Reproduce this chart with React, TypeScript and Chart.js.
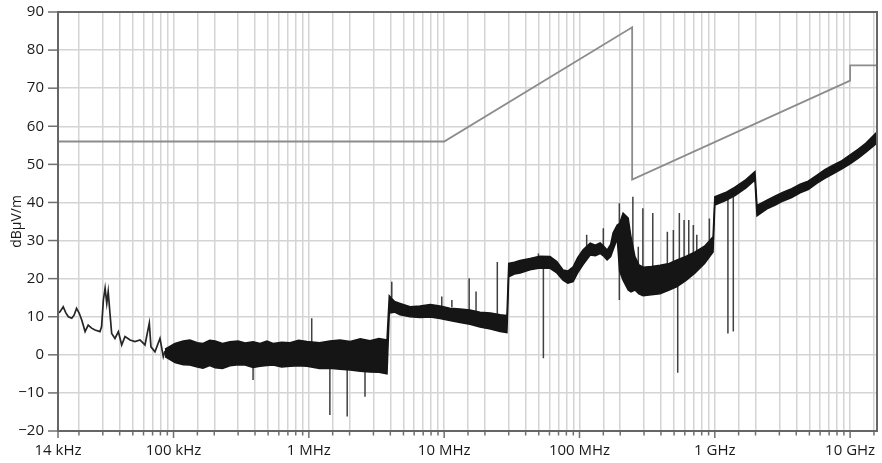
import { useEffect, useRef } from 'react';
import { Chart, registerables } from 'chart.js';

Chart.register(...registerables);

const X_MIN = 14e3;
const X_MAX = 15.8e9;
const Y_MIN = -20;
const Y_MAX = 90;

const tickFreqs = [14e3, 1e5, 1e6, 1e7, 1e8, 1e9, 1e10];
const tickLabels = ['14 kHz', '100 kHz', '1 MHz', '10 MHz', '100 MHz', '1 GHz', '10 GHz'];

// Limit line (dBμV/m)
const limitFreq = [14e3, 10e6, 245e6, 245e6, 10e9, 10e9, 15.8e9];
const limitDb = [56, 56, 86, 46, 72, 76, 76];

// Low-frequency part of the measured trace (thin line)
const lowFreq = [14.0e3, 14.5e3, 15.3e3, 16.0e3, 16.7e3, 17.7e3, 18.4e3, 19.2e3, 20.1e3, 21.0e3, 22.2e3, 23.4e3, 24.8e3, 26.3e3, 28.6e3, 29.4e3, 30.3e3, 31.2e3, 32.1e3, 32.9e3, 33.9e3, 34.9e3, 36.9e3, 39.1e3, 41.4e3, 43.8e3, 47.7e3, 51.9e3, 56.5e3, 61.5e3, 66.2e3, 68.1e3, 72.9e3, 79.4e3, 84.0e3, 86.5e3];
const lowDb = [10.9, 11.3, 12.6, 11.0, 10.0, 9.6, 10.4, 12.2, 10.9, 9.1, 6.1, 7.8, 7.0, 6.5, 6.1, 7.4, 14.4, 17.5, 13.5, 16.6, 10.9, 5.6, 4.3, 6.1, 2.6, 4.8, 3.9, 3.5, 3.9, 2.6, 8.3, 2.1, 0.8, 4.3, -0.5, 1.0];

// Dense noise band of the measured trace: upper and lower envelope
const bandFreq = [86.5e3, 102.5e3, 118e3, 132e3, 150e3, 165e3, 185e3, 203e3, 230e3, 261e3, 300e3, 338e3, 387e3, 436e3, 490e3, 544e3, 630e3, 726e3, 840e3, 969e3, 1.2e6, 1.43e6, 1.7e6, 2.02e6, 2.4e6, 2.83e6, 3.3e6, 3.78e6, 3.93e6, 4.3e6, 4.72e6, 5.6e6, 6.63e6, 7.9e6, 9.32e6, 11.0e6, 13.1e6, 15.5e6, 18.4e6, 22.0e6, 25.9e6, 29.1e6, 30.0e6, 33.0e6, 36.4e6, 43.1e6, 51.0e6, 60.6e6, 68.0e6, 75.6e6, 82.0e6, 89.7e6, 97.0e6, 106e6, 120e6, 131e6, 142e6, 150e6, 160e6, 170e6, 177e6, 190e6, 198e6, 210e6, 229e6, 240e6, 257e6, 275e6, 295e6, 340e6, 394e6, 460e6, 526e6, 610e6, 715e6, 840e6, 971e6, 1.0e9, 1.2e9, 1.41e9, 1.7e9, 1.98e9, 2.05e9, 2.43e9, 2.8e9, 3.20e9, 3.7e9, 4.27e9, 4.9e9, 5.70e9, 6.5e9, 7.48e9, 8.7e9, 10.0e9, 11.5e9, 13.1e9, 15.8e9];
const bandHi = [1.5, 3.0, 3.6, 3.9, 3.2, 3.0, 3.8, 3.6, 3.0, 3.4, 3.6, 3.1, 3.4, 3.0, 3.6, 3.0, 3.3, 3.2, 3.8, 3.5, 3.2, 3.6, 3.9, 3.5, 4.2, 3.7, 4.3, 3.9, 15.5, 14.0, 13.5, 12.6, 12.8, 13.2, 12.8, 12.2, 12.0, 11.8, 11.2, 11.0, 10.5, 10.3, 24.0, 24.3, 24.8, 25.3, 25.9, 25.8, 24.5, 22.3, 22.0, 23.1, 25.5, 27.5, 29.3, 28.8, 29.4, 28.6, 27.5, 29.0, 32.0, 34.1, 34.5, 37.2, 35.9, 31.0, 25.8, 23.6, 23.0, 23.2, 23.5, 24.0, 24.9, 25.8, 27.0, 28.5, 31.0, 41.5, 42.6, 44.0, 46.0, 48.1, 39.2, 40.6, 41.7, 42.7, 43.6, 44.8, 45.6, 47.2, 48.6, 49.8, 51.0, 52.5, 54.0, 55.6, 58.5];
const bandLo = [-0.5, -2.0, -2.6, -2.7, -3.2, -3.5, -2.8, -3.4, -3.6, -2.9, -2.6, -2.7, -3.3, -3.0, -2.8, -2.7, -3.2, -3.0, -2.9, -3.0, -3.6, -3.5, -3.8, -4.0, -4.3, -4.5, -4.6, -5.0, 11.0, 11.2, 10.5, 10.0, 9.8, 9.9, 9.5, 9.0, 8.5, 8.0, 7.3, 6.8, 6.1, 5.8, 20.5, 21.2, 21.5, 22.3, 22.8, 22.7, 21.5, 19.6, 18.8, 19.2, 21.5, 23.6, 26.2, 26.0, 26.6, 26.0, 24.9, 25.8, 27.5, 30.5, 22.0, 19.6, 17.0, 16.5, 17.0, 16.0, 15.5, 15.8, 16.0, 17.0, 17.9, 19.5, 21.5, 24.0, 27.0, 39.3, 40.5, 41.8, 43.8, 45.9, 36.5, 38.3, 39.3, 40.4, 41.3, 42.5, 43.4, 45.1, 46.3, 47.5, 48.8, 50.1, 51.6, 53.2, 55.6];

// Narrow spikes: frequency, start level, end level
const spikeFreq = [387e3, 1.05e6, 1.43e6, 1.92e6, 2.60e6, 4.10e6, 9.60e6, 11.4e6, 15.3e6, 17.2e6, 24.7e6, 49.7e6, 54.1e6, 113e6, 150e6, 197e6, 248e6, 272e6, 294e6, 348e6, 446e6, 494e6, 532e6, 547e6, 593e6, 642e6, 694e6, 736e6, 912e6, 1.25e9, 1.37e9];
const spikeFrom = [-2.5, 3.0, -3.0, -3.5, -4.0, 15.0, 12.8, 12.5, 11.8, 11.5, 10.6, 25.5, 22.7, 28.0, 28.5, 14.4, 20.0, 22.0, 22.0, 22.5, 23.5, 24.0, 20.0, 24.5, 25.0, 25.5, 26.0, 26.5, 28.5, 41.0, 41.5];
const spikeTo = [-6.6, 9.6, -15.8, -16.2, -11.0, 19.2, 15.3, 14.4, 20.1, 16.6, 24.4, 26.6, -0.9, 31.5, 33.2, 39.8, 41.5, 28.4, 38.5, 37.2, 32.3, 32.8, -4.7, 37.2, 35.4, 35.4, 34.1, 31.5, 35.8, 5.6, 6.1];

const FONT = "'Open Sans', 'DejaVu Sans', sans-serif";

const isDecade = (v: number) => Math.abs(Math.log10(v) - Math.round(Math.log10(v))) < 1e-6;

const framePlugin = {
  id: 'frameTicks',
  afterDraw(chart: any) {
    const { ctx, chartArea: a, scales } = chart;
    const xs = scales.x;
    const ys = scales.y;
    ctx.save();
    ctx.strokeStyle = '#707070';
    ctx.lineWidth = 1.5;
    xs.ticks.forEach((t: any) => {
      if (t.value >= X_MAX) return;
      const px = xs.getPixelForValue(t.value);
      const major = isDecade(t.value) || t.value === X_MIN;
      ctx.beginPath();
      ctx.moveTo(px, a.bottom);
      ctx.lineTo(px, a.bottom + (major ? 7 : 4.5));
      ctx.stroke();
    });
    ys.ticks.forEach((t: any) => {
      const py = ys.getPixelForValue(t.value);
      ctx.beginPath();
      if (t.value % 10 === 0) {
        ctx.lineWidth = 1.5;
        ctx.moveTo(a.left - 10, py);
        ctx.lineTo(a.left, py);
      } else {
        ctx.lineWidth = 2;
        ctx.moveTo(a.left - 5.5, py);
        ctx.lineTo(a.left - 3.5, py);
      }
      ctx.stroke();
    });
    ctx.strokeStyle = '#666666';
    ctx.lineWidth = 2;
    ctx.strokeRect(a.left, a.top, a.right - a.left, a.bottom - a.top);
    ctx.restore();
  },
};

export default function App() {
  const ref = useRef<HTMLCanvasElement | null>(null);

  useEffect(() => {
    if (!ref.current) return;
    const limitData = limitFreq.map((f, i) => ({ x: f, y: limitDb[i] }));
    const hiData = bandFreq.map((f, i) => ({ x: f, y: bandHi[i] }));
    const loData = bandFreq.map((f, i) => ({ x: f, y: bandLo[i] }));
    const lowData = lowFreq.map((f, i) => ({ x: f, y: lowDb[i] }));
    const spikeData: { x: number; y: number | null }[] = [];
    spikeFreq.forEach((f, i) => {
      spikeData.push({ x: f, y: spikeFrom[i] });
      spikeData.push({ x: f, y: spikeTo[i] });
      spikeData.push({ x: f, y: null });
    });

    const chart = new Chart(ref.current, {
      type: 'line',
      data: {
        datasets: [
          { data: limitData, borderColor: '#8c8c8c', borderWidth: 1.8, pointRadius: 0, fill: false, tension: 0 },
          { data: hiData, borderColor: '#151515', backgroundColor: '#151515', borderWidth: 1.5, pointRadius: 0, fill: '+1', tension: 0 },
          { data: loData, borderColor: '#151515', borderWidth: 1.5, pointRadius: 0, fill: false, tension: 0 },
          { data: lowData, borderColor: '#262626', borderWidth: 1.7, pointRadius: 0, fill: false, tension: 0 },
          { data: spikeData, borderColor: '#404040', borderWidth: 1.5, pointRadius: 0, fill: false, tension: 0, spanGaps: false },
        ] as any,
      },
      options: {
        animation: false,
        responsive: false,
        events: [],
        layout: { padding: { left: 0, top: 12, right: 5, bottom: 0 }, autoPadding: false } as any,
        plugins: { legend: { display: false }, tooltip: { enabled: false } },
        scales: {
          x: {
            type: 'logarithmic',
            min: X_MIN,
            max: X_MAX,
            border: { display: false },
            grid: { color: '#d4d4d4', lineWidth: 1.5, drawTicks: false },
            ticks: {
              autoSkip: false,
              maxRotation: 0,
              padding: 11,
              color: '#1a1a1a',
              font: { family: FONT, size: 15 },
              callback: (v: any) => {
                const idx = tickFreqs.findIndex((f) => Math.abs(Math.log10(f) - Math.log10(Number(v))) < 1e-6);
                return idx >= 0 ? tickLabels[idx] : '';
              },
            },
            afterFit: (s: any) => {
              s.height = 32;
              s.paddingLeft = 0;
              s.paddingRight = 0;
            },
          },
          y: {
            type: 'linear',
            min: Y_MIN,
            max: Y_MAX,
            border: { display: false },
            grid: {
              color: (c: any) => (c.tick && c.tick.value % 10 === 0 ? '#d4d4d4' : 'rgba(0,0,0,0)'),
              lineWidth: 1.5,
              drawTicks: false,
            },
            ticks: {
              stepSize: 5,
              padding: 14,
              color: '#1a1a1a',
              font: { family: FONT, size: 15 },
              callback: (v: any) => {
                const n = Number(v);
                if (n % 10 !== 0) return '';
                return n < 0 ? '\u2212' + Math.abs(n) : String(n);
              },
            },
            title: {
              display: true,
              text: 'dBμV/m',
              color: '#1a1a1a',
              font: { family: FONT, size: 14 },
              padding: { top: 9, bottom: 0 },
            },
            afterFit: (s: any) => {
              s.width = 58;
              s.paddingTop = 0;
              s.paddingBottom = 0;
            },
          },
        },
      } as any,
      plugins: [framePlugin],
    });
    return () => chart.destroy();
  }, []);

  return (
    <canvas
      ref={ref}
      width={882}
      height={463}
      style={{ position: 'absolute', left: 0, top: 0, width: 882, height: 463 }}
    />
  );
}
